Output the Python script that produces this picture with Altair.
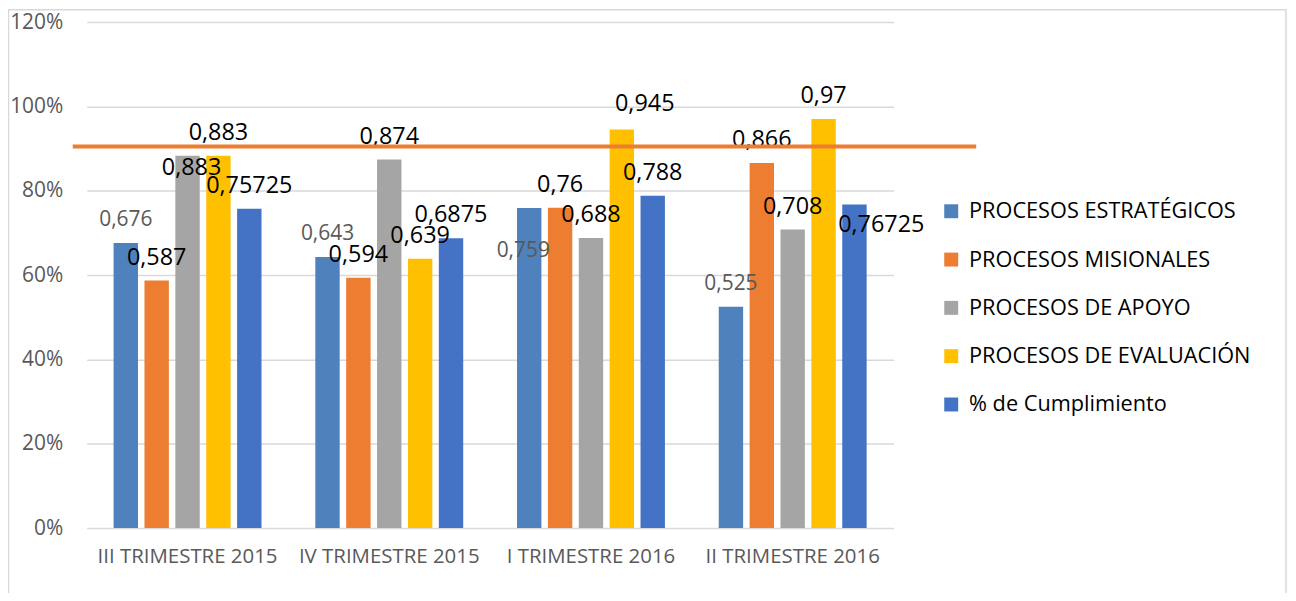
import altair as alt
import pandas as pd

quarters = ["III TRIMESTRE 2015", "IV TRIMESTRE 2015", "I TRIMESTRE 2016", "II TRIMESTRE 2016"]
series = ["PROCESOS ESTRATÉGICOS", "PROCESOS MISIONALES", "PROCESOS DE APOYO",
          "PROCESOS DE EVALUACIÓN", "% de Cumplimiento"]
estrategicos = [0.676, 0.643, 0.759, 0.525]
misionales = [0.587, 0.594, 0.76, 0.866]
apoyo = [0.883, 0.874, 0.688, 0.708]
evaluacion = [0.883, 0.639, 0.945, 0.97]
cumplimiento = [0.75725, 0.6875, 0.788, 0.76725]
meta = [0.905]
colors = ["#4F81BD", "#ED7D31", "#A5A5A5", "#FFC000", "#4472C4"]

values = [estrategicos, misionales, apoyo, evaluacion, cumplimiento]
rows = []
for s, vals in zip(series, values):
    for q, v in zip(quarters, vals):
        rows.append({"trimestre": q, "serie": s, "valor": v})
df = pd.DataFrame(rows)

FONT = "Open Sans"

x_enc = alt.X("trimestre:N", sort=quarters, title=None,
              scale=alt.Scale(paddingInner=0.2346, paddingOuter=0.1173),
              axis=alt.Axis(labelAngle=0, labelFontSize=20.5, labelColor="#595959",
                            labelFont=FONT, labelPadding=19, domain=False, ticks=False,
                            labelLimit=400, labelOverlap=False))
xoff_enc = alt.XOffset("serie:N", sort=series,
                       scale=alt.Scale(paddingInner=0.21, paddingOuter=0.105))
y_enc = alt.Y("valor:Q", title=None,
              scale=alt.Scale(domain=[0, 1.2], nice=False),
              axis=alt.Axis(format="%", values=[0, 0.2, 0.4, 0.6, 0.8, 1.0, 1.2],
                            labelFontSize=21, labelColor="#595959", labelFont=FONT,
                            labelPadding=24, domain=False, ticks=False,
                            gridColor="#D9D9D9", gridWidth=1.5))

base = alt.Chart(df)

bars = base.mark_bar().encode(
    x=x_enc, xOffset=xoff_enc, y=y_enc,
    color=alt.Color("serie:N", sort=series,
                    scale=alt.Scale(domain=series, range=colors),
                    legend=alt.Legend(title=None, orient="none", legendX=857, legendY=179,
                                      symbolType="square", symbolSize=196,
                                      symbolStrokeWidth=0, labelFontSize=21.8,
                                      labelFont=FONT, labelColor="#000000",
                                      rowPadding=25.5, labelOffset=7, labelLimit=400)),
)

exceptions = [
    ("III TRIMESTRE 2015", "PROCESOS DE APOYO", 4, 12),
    ("I TRIMESTRE 2016", "PROCESOS ESTRATÉGICOS", -6, 43),
    ("I TRIMESTRE 2016", "PROCESOS DE EVALUACIÓN", 23, -26),
    ("II TRIMESTRE 2016", "% de Cumplimiento", 27, 21),
]

def label_layer(filter_expr, dx, dy):
    return base.transform_filter(filter_expr).transform_calculate(
        etiqueta="replace(toString(datum.valor), '.', ',')"
    ).mark_text(baseline="middle", align="center", font=FONT, dx=dx, dy=dy).encode(
        x=alt.X("trimestre:N", sort=quarters),
        xOffset=alt.XOffset("serie:N", sort=series),
        y="valor:Q",
        text="etiqueta:N",
        color=alt.condition(alt.datum.serie == "PROCESOS ESTRATÉGICOS",
                            alt.value("#595959"), alt.value("#000000")),
        size=alt.condition(alt.datum.serie == "PROCESOS ESTRATÉGICOS",
                           alt.value(21), alt.value(23.5)),
    )

exc_exprs = [f"(datum.trimestre == '{q}' && datum.serie == '{s}')" for q, s, _, _ in exceptions]
default_labels = label_layer("!(" + " || ".join(exc_exprs) + ")", 0, -23)
exc_layers = [label_layer(e, dx, dy) for e, (_, _, dx, dy) in zip(exc_exprs, exceptions)]

meta_df = pd.DataFrame({"meta": meta})
meta_line = alt.Chart(meta_df).mark_rule(color="#ED7D31", strokeWidth=4, clip=False).encode(
    y=alt.Y("meta:Q"), x=alt.value(-14), x2=alt.value(893)
)

border = alt.Chart(meta_df).mark_rect(fill=None, stroke="#D9D9D9", strokeWidth=1.5,
                                       clip=False).encode(
    x=alt.value(-78.5), x2=alt.value(1204), y=alt.value(-12.5), y2=alt.value(600)
)

chart = alt.layer(border, bars, default_labels, *exc_layers, meta_line).resolve_scale(
    color="shared"
).properties(
    width=810, height=508,
    autosize=alt.AutoSizeParams(type="none"),
    padding={"left": 79, "top": 13, "right": 396, "bottom": 64},
    background="white",
).configure_view(stroke=None)

chart.save("out.html", embed_options={"renderer": "svg", "actions": False})
